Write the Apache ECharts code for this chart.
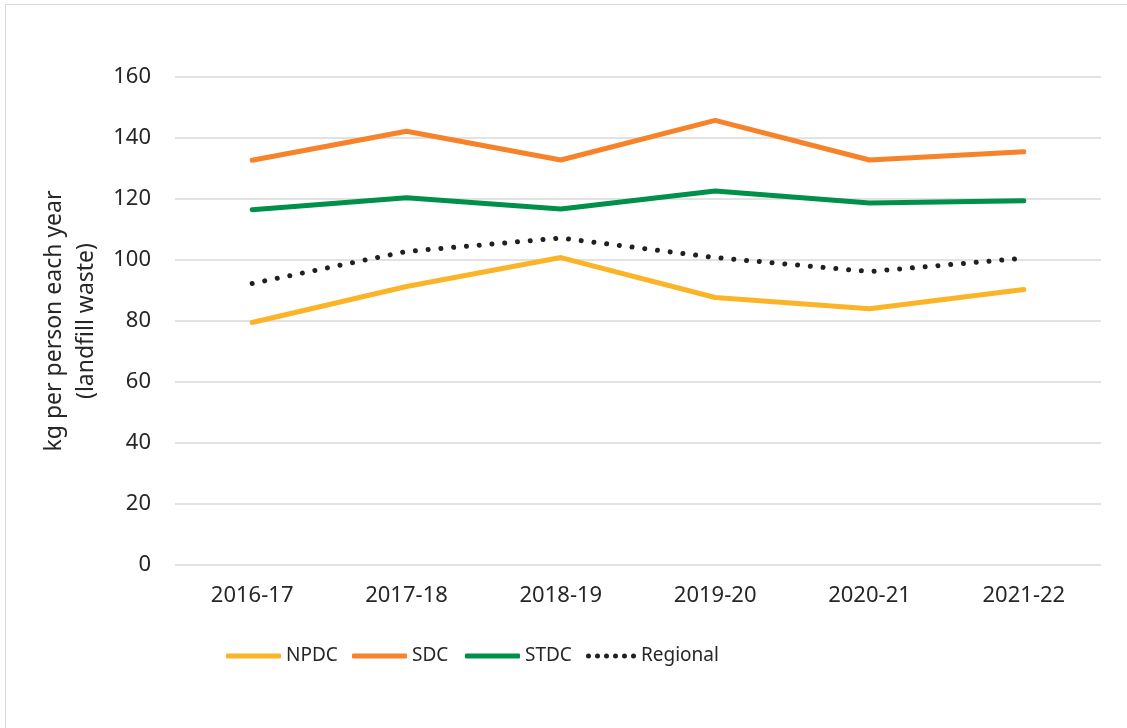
<!DOCTYPE html>
<html>
<head>
<meta charset="utf-8">
<script src="https://cdn.jsdelivr.net/npm/echarts@6/dist/echarts.min.js"></script>
<style>
  html, body { margin: 0; padding: 0; background: #fff; }
  .main-box { width: 1127px; height: 728px; position: relative; overflow: hidden; }
  .main-box::after {
    content: ''; position: absolute; left: 5px; top: 4px; right: -10px; bottom: -10px;
    border: 1px solid #d9d9d9; pointer-events: none;
  }
  .main-content { width: 100%; height: 100%; }
</style>
</head>
<body>
<div class="main-box">
  <div class="main-content" id="chart"></div>
</div>
<script>
// years on the x axis
const years = ['2016-17', '2017-18', '2018-19', '2019-20', '2020-21', '2021-22']
// kg per person each year (landfill waste)
const npdc = [79.5, 91.3, 100.8, 87.7, 84.0, 90.3]
const sdc = [132.7, 142.2, 132.8, 145.8, 132.8, 135.5]
const stdc = [116.5, 120.4, 116.7, 122.6, 118.7, 119.4]
const regional = [92.3, 102.8, 107.2, 100.8, 96.2, 100.6]

const font = 'Noto Sans'
const textColor = '#262626'
const chart = echarts.init(document.getElementById('chart'))

// six round dots for the Regional legend key
let dots = ''
for (let i = 0; i < 6; i++) {
  const x = 9 * i
  dots += 'M' + x + ',2.5a2.5,2.5 0 1,0 5,0a2.5,2.5 0 1,0 -5,0'
}

// one legend per key so each sits where the original has it
const legendAt = (name, left, icon, width) => ({
  left,
  top: 639,
  icon,
  itemWidth: width,
  itemHeight: 5,
  textStyle: { fontSize: 19, color: textColor, fontFamily: font, lineHeight: 24 },
  data: [name]
})

const lineSeries = (name, data, color) => ({
  name,
  type: 'line',
  data,
  symbol: 'none',
  lineStyle: { color, width: 5, cap: 'round' },
  itemStyle: { color }
})

chart.setOption({
  animation: false,
  textStyle: { fontFamily: font, color: textColor },
  grid: { left: 175, right: 26, top: 77, bottom: 163 },
  legend: [
    legendAt('NPDC', 221, 'roundRect', 55),
    legendAt('SDC', 347, 'roundRect', 55),
    legendAt('STDC', 460, 'roundRect', 55),
    legendAt('Regional', 581, 'path://' + dots, 50)
  ],
  xAxis: {
    type: 'category',
    data: years,
    boundaryGap: true,
    axisLine: { show: false },
    axisTick: { show: false },
    axisLabel: { fontSize: 22, color: textColor, margin: 20 }
  },
  yAxis: {
    type: 'value',
    min: 0,
    max: 160,
    interval: 20,
    name: 'kg per person each year\n(landfill waste)',
    nameLocation: 'middle',
    nameRotate: 90,
    nameGap: 69,
    nameTextStyle: { fontSize: 23, color: textColor, lineHeight: 32 },
    axisLine: { show: false },
    axisTick: { show: false },
    axisLabel: { fontSize: 22, color: textColor, margin: 24 },
    splitLine: { lineStyle: { color: '#d9d9d9', width: 1.5 } }
  },
  series: [
    lineSeries('NPDC', npdc, '#fbb427'),
    lineSeries('SDC', sdc, '#f6822a'),
    lineSeries('STDC', stdc, '#00904a'),
    {
      name: 'Regional',
      type: 'line',
      data: regional,
      symbol: 'none',
      lineStyle: { color: '#231f20', width: 5, type: [0.01, 12.8], cap: 'round' },
      itemStyle: { color: '#231f20' }
    }
  ]
})
</script>
</body>
</html>
